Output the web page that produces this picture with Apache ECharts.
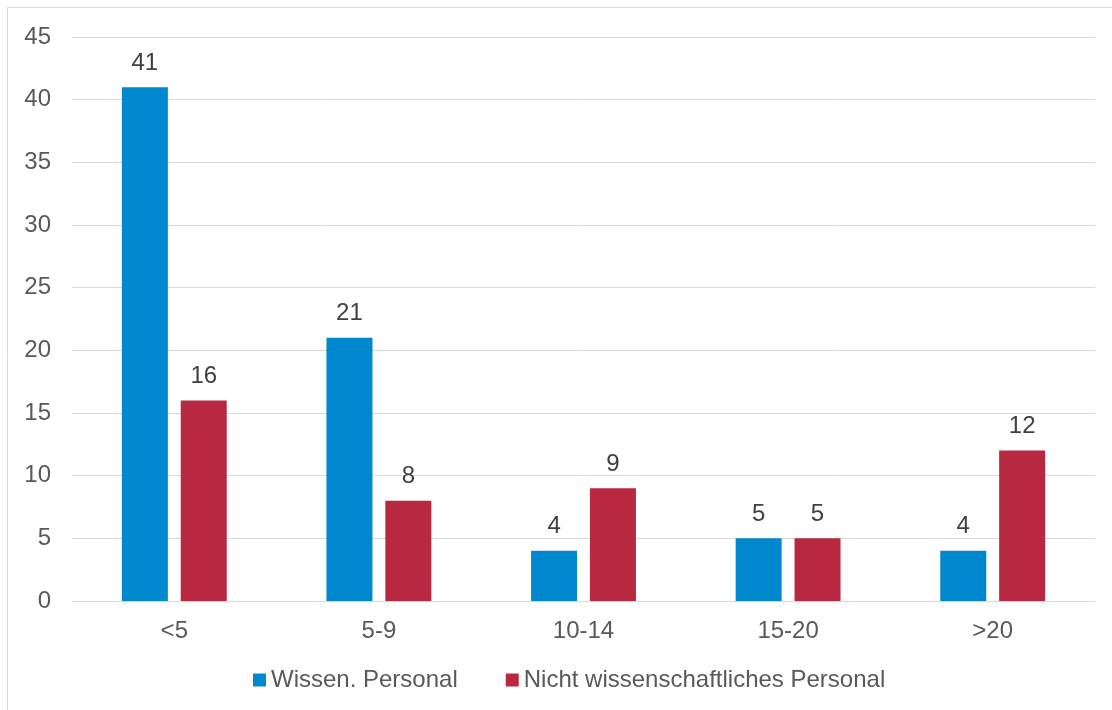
<!DOCTYPE html>
<html><head><meta charset="utf-8">
<script src="https://cdn.jsdelivr.net/npm/echarts@6/dist/echarts.min.js"></script>
<style>html,body{margin:0;padding:0;background:#fff}#c{width:1112px;height:710px}</style>
</head><body><div id="c"></div>
<script>
const categories = ['<5', '5-9', '10-14', '15-20', '>20'];
const wissenPersonal = [41, 21, 4, 5, 4];
const nichtWissPersonal = [16, 8, 9, 5, 12];
const seriesNames = ['Wissen. Personal', 'Nicht wissenschaftliches Personal'];
const chart = echarts.init(document.getElementById('c'), null, {renderer: 'canvas'});
const font = '"Liberation Sans", Arial, sans-serif';
chart.setOption({
  animation: false,
  textStyle: {fontFamily: font},
  graphic: [{type: 'rect', shape: {x: 7.5, y: 7.5, width: 1120, height: 720}, style: {fill: 'none', stroke: '#d9d9d9', lineWidth: 1}, silent: true}],
  grid: {left: 72, right: 17, top: 37, bottom: 109},
  legend: {
    top: 668, left: 253, itemWidth: 13, itemHeight: 13, itemGap: 48,
    icon: 'rect', padding: 0,
    textStyle: {fontSize: 24, color: '#595959', fontFamily: font, padding: [0, 0, 0, 0]},
    data: seriesNames
  },
  xAxis: {
    type: 'category', data: categories,
    axisLine: {lineStyle: {color: '#d9d9d9', width: 1}},
    axisTick: {show: false},
    axisLabel: {fontSize: 24, color: '#595959', margin: 18, fontFamily: font}
  },
  yAxis: {
    type: 'value', min: 0, max: 45, interval: 5,
    axisLine: {show: false}, axisTick: {show: false},
    splitLine: {lineStyle: {color: '#d9d9d9', width: 1}},
    axisLabel: {fontSize: 24, color: '#595959', margin: 21, fontFamily: font}
  },
  series: [
    {name: seriesNames[0], type: 'bar', data: wissenPersonal, barWidth: 46, barGap: '28%',
     itemStyle: {color: '#0088CE'},
     label: {show: true, position: 'top', distance: 12, fontSize: 24, color: '#404040', fontFamily: font}},
    {name: seriesNames[1], type: 'bar', data: nichtWissPersonal, barWidth: 46,
     itemStyle: {color: '#B92841'},
     label: {show: true, position: 'top', distance: 12, fontSize: 24, color: '#404040', fontFamily: font}}
  ]
});
</script></body></html>
